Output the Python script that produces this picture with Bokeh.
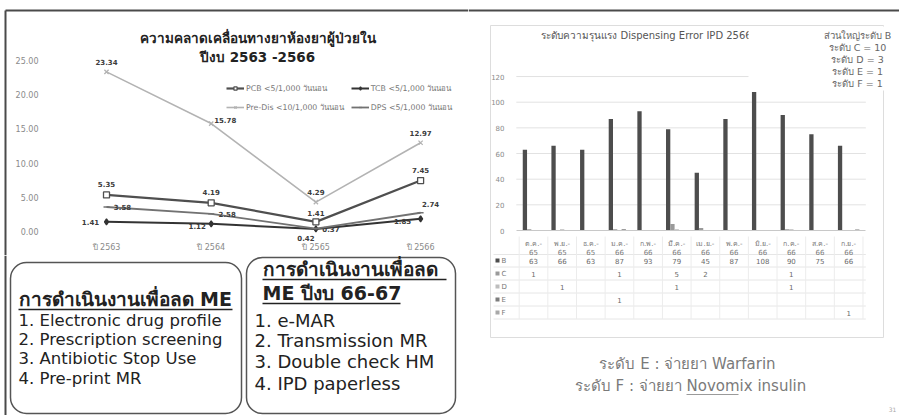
from bokeh.plotting import figure
from bokeh.layouts import row, column
from bokeh.models import Range1d, FixedTicker, NumeralTickFormatter, Legend, LegendItem
from bokeh.core.properties import value
from bokeh.embed import file_html
from bokeh.resources import INLINE

FONT = "DejaVu Sans"

# ---------------- data: medication error rates per 1,000 patient days ----------------
years = ["ปี 2563", "ปี 2564", "ปี 2565", "ปี 2566"]
pcb = [5.35, 4.19, 1.41, 7.45]
tcb = [1.41, 1.12, 0.37, 1.85]
predis = [23.34, 15.78, 4.29, 12.97]
dps = [3.58, 2.58, 0.42, 2.74]
series_names = ["PCB <5/1,000 วันนอน", "TCB <5/1,000 วันนอน",
                "Pre-Dis <10/1,000 วันนอน", "DPS <5/1,000 วันนอน"]
line_yticks = [0, 5, 10, 15, 20, 25]

# ---------------- data: dispensing error severity, IPD fiscal 2566 ----------------
months = ["ต.ค.-65", "พ.ย.-65", "ธ.ค.-65", "ม.ค.-66", "ก.พ.-66", "มี.ค.-66",
          "เม.ย.-66", "พ.ค.-66", "มิ.ย.-66", "ก.ค.-66", "ส.ค.-66", "ก.ย.-66"]
level_b = [63, 66, 63, 87, 93, 79, 45, 87, 108, 90, 75, 66]
level_c = [1, 0, 0, 1, 0, 5, 2, 0, 0, 1, 0, 0]
level_d = [0, 1, 0, 0, 0, 1, 0, 0, 0, 1, 0, 0]
level_e = [0, 0, 0, 1, 0, 0, 0, 0, 0, 0, 0, 0]
level_f = [0, 0, 0, 0, 0, 0, 0, 0, 0, 0, 0, 1]
level_names = ["B", "C", "D", "E", "F"]
bar_yticks = [0, 20, 40, 60, 80, 100, 120]


def style_axis(ax, size, color="#8a8a8a"):
    ax.axis_line_color = None
    ax.major_tick_line_color = None
    ax.minor_tick_line_color = None
    ax.major_label_text_font = FONT
    ax.major_label_text_font_size = size
    ax.major_label_text_color = color


# ======================= left: line chart =======================
LW, LH = 468, 255
LX0, LDX = 106.0, 104.7     # screen x of first year, pixels per year
LY0, LDY = 231.0, 6.84      # screen y of zero, pixels per unit


def lx(px):
    return (px - LX0) / LDX


def ly(py):
    return (LY0 - py) / LDY


lp = figure(width=LW, height=LH, output_backend="svg", toolbar_location=None,
            x_range=Range1d(lx(0), lx(LW)), y_range=Range1d(ly(LH), ly(0)),
            min_border=0)
lp.outline_line_color = None
lp.grid.visible = False

lp.yaxis.fixed_location = lx(46)
lp.yaxis.ticker = FixedTicker(ticks=line_yticks)
lp.yaxis.formatter = NumeralTickFormatter(format="0.00")
lp.yaxis.major_label_standoff = 2
style_axis(lp.yaxis[0], "8px")

xs = list(range(len(years)))
lp.xaxis.fixed_location = 0
lp.xaxis.ticker = FixedTicker(ticks=xs)
lp.xaxis.major_label_overrides = {i: y for i, y in enumerate(years)}
lp.xaxis.major_label_standoff = 5
style_axis(lp.xaxis[0], "8px")

# frame lines of the slide panel
lp.segment(x0=[lx(5), lx(5)], y0=[ly(10), ly(10)], x1=[lx(LW), lx(5)], y1=[ly(10), ly(LH)],
           line_color="#4a4a4a", line_width=2)

series = [pcb, tcb, predis, dps]
colors = ["#4f4f4f", "#333333", "#b3b3b3", "#727272"]
widths = [2.2, 2.0, 1.6, 1.8]
markers = ["square", "diamond", "x", "dash"]
mfill = ["white", "#333333", "#b3b3b3", "#727272"]
label_dx = [[0, 0, 0, 0], [-16, -14, 15, -18], [0, 14, 0, 0], [16, 16, -10, 10]]
label_dy = [[-11, -11, -9, -11], [0, 2, 0, 2], [-10, -4, -10, -10], [0, 0, 9, -9]]

items = {}
for k, vals in enumerate(series):
    r1 = lp.line(xs, vals, line_color=colors[k], line_width=widths[k])
    r2 = lp.scatter(xs, vals, marker=markers[k], size=6, line_color=colors[k],
                    fill_color=mfill[k], line_width=1.3)
    lp.text(xs, vals, text=[f"{v:.2f}" for v in vals], x_offset=label_dx[k], y_offset=label_dy[k],
            text_font=value(FONT), text_font_size="7px", text_font_style="bold",
            text_color="#3c3c3c", text_align="center", text_baseline="middle")
    items[k] = LegendItem(label=series_names[k], renderers=[r1, r2])

# two columns, filled column by column: PCB / Pre-Dis, then TCB / DPS
legend = Legend(items=[items[0], items[2], items[1], items[3]], ncols=2, location=(226, 142),
                label_text_font=FONT, label_text_font_size="7.8px", label_text_color="#777777",
                glyph_width=18, glyph_height=8, label_height=12, label_standoff=2,
                spacing=7, padding=2, margin=0, border_line_color=None,
                background_fill_alpha=0)
lp.add_layout(legend)

lp.text(x=[lx(257), lx(257)], y=[ly(37), ly(56)],
        text=["ความคลาดเคลื่อนทางยาห้องยาผู้ป่วยใน", "ปีงบ 2563 -2566"],
        text_font=value(FONT), text_font_size="13.5px", text_font_style="bold",
        text_color="#222222", text_align="center", text_baseline="middle")

# ======================= left bottom: action boxes =======================
BW, BH = 468, 160
bp = figure(width=BW, height=BH, output_backend="svg", toolbar_location=None,
            x_range=Range1d(0, BW), y_range=Range1d(BH, 0), min_border=0,
            x_axis_type=None, y_axis_type=None)
bp.outline_line_color = None
bp.grid.visible = False
bp.segment(x0=[5], y0=[0], x1=[5], y1=[BH], line_color="#4a4a4a", line_width=2)
bp.quad(left=[10, 246], right=[241, 455], top=[7, 2], bottom=[158, 158],
        fill_color="white", line_color="#555555", line_width=1.5, border_radius=16)

box1_title = "การดำเนินงานเพื่อลด ME"
box1_items = ["1.  Electronic drug profile", "2.  Prescription screening",
              "3.  Antibiotic Stop Use", "4.  Pre-print MR"]
box2_title = ["การดำเนินงานเพื่อลด", "ME ปีงบ 66-67"]
box2_items = ["1.  e-MAR", "2.  Transmission MR", "3.  Double check HM", "4.  IPD paperless"]

bp.text(x=[18], y=[43], text=[box1_title], text_font=value(FONT), text_font_size="19px",
        text_font_style="bold", text_color="#222222", text_baseline="middle")
bp.text(x=[18] * 4, y=[65, 84, 103, 123], text=box1_items, text_font=value(FONT),
        text_font_size="16.5px", text_color="#222222", text_baseline="middle")
bp.text(x=[262, 262], y=[13, 37], text=box2_title, text_font=value(FONT), text_font_size="19px",
        text_font_style="bold", text_color="#222222", text_baseline="middle")
bp.text(x=[254] * 4, y=[65, 85, 106, 128], text=box2_items, text_font=value(FONT),
        text_font_size="18px", text_color="#222222", text_baseline="middle")
bp.segment(x0=[18, 262, 262], y0=[54, 24, 48], x1=[232, 446, 400], y1=[54, 24, 48],
           line_color="#222222", line_width=1.4)

# ======================= right: severity bar chart with data table =======================
RW, RH = 431, 415
RX = 468
BC0, BDC = 533.0, 28.65     # screen x of first month, pixels per month
BY0, BDY = 230.0, 1.283     # screen y of zero, pixels per case


def bx(px):
    return (px - BC0) / BDC


def by(py):
    return (BY0 - py) / BDY


rp = figure(width=RW, height=RH, output_backend="svg", toolbar_location=None,
            x_range=Range1d(bx(RX), bx(RX + RW)), y_range=Range1d(by(RH), by(0)),
            min_border=0)
rp.outline_line_color = None
rp.grid.visible = False

# slide top line and chart area frame
rp.segment(x0=[bx(RX)], y0=[by(10)], x1=[bx(RX + RW)], y1=[by(10)], line_color="#4a4a4a", line_width=2)
rp.quad(left=[bx(490)], right=[bx(883)], top=[by(25)], bottom=[by(337)],
        fill_color=None, line_color="#dddddd", line_width=1)

mx = list(range(len(months)))
rp.segment(x0=[-0.6] * (len(bar_yticks) - 1), y0=bar_yticks[1:], x1=[11.6] * (len(bar_yticks) - 1),
           y1=bar_yticks[1:], line_color="#e2e2e2", line_width=1)

levels = [level_b, level_c, level_d, level_e, level_f]
bar_colors = ["#4d4d4d", "#9a9a9a", "#bdbdbd", "#7d7d7d", "#a8a8a8"]
bw = 0.15
for k, vals in enumerate(levels):
    rp.vbar(x=[i + (k - 2) * bw for i in mx], top=vals, width=bw, fill_color=bar_colors[k],
            line_color=None)

rp.yaxis.fixed_location = bx(512)
rp.yaxis.ticker = FixedTicker(ticks=bar_yticks)
rp.yaxis.major_label_standoff = 2
style_axis(rp.yaxis[0], "7px")

rp.xaxis.fixed_location = 0
rp.xaxis.bounds = (-0.6, 11.6)
rp.xaxis.ticker = FixedTicker(ticks=mx)
rp.xaxis.major_label_overrides = {i: m.replace("-", "-\n") for i, m in enumerate(months)}
rp.xaxis.major_label_standoff = 3
style_axis(rp.xaxis[0], "7px", "#7a7a7a")
rp.xaxis.axis_line_color = "#c8c8c8"

# data table under the chart
row_y = [260, 273, 286, 299, 312]
table_lines_y = [254, 266.5, 279.5, 292.5, 305.5, 318.5]
rp.segment(x0=[bx(493)] * len(table_lines_y), y0=[by(v) for v in table_lines_y],
           x1=[11.6] * len(table_lines_y), y1=[by(v) for v in table_lines_y],
           line_color="#e6e6e6", line_width=1)
rp.segment(x0=[i - 0.5 for i in mx] + [11.5], y0=[by(236)] * 13,
           x1=[i - 0.5 for i in mx] + [11.5], y1=[by(318.5)] * 13, line_color="#ececec", line_width=1)
for k, vals in enumerate(levels):
    yk = by(row_y[k])
    rp.scatter([bx(497)], [yk], marker="square", size=4, fill_color=bar_colors[k], line_color=None)
    rp.text([bx(501)], [yk], text=[level_names[k]], text_font=value(FONT), text_font_size="7px",
            text_color="#777777", text_baseline="middle")
    shown = [(i, v) for i, v in enumerate(vals) if v]
    rp.text([i for i, _ in shown], [yk] * len(shown), text=[str(v) for _, v in shown],
            text_font=value(FONT), text_font_size="7px", text_color="#6a6a6a",
            text_align="center", text_baseline="middle")

rp.text([bx(646)], [by(35)], text=["ระดับความรุนแรง Dispensing Error IPD 2566"],
        text_font=value(FONT), text_font_size="10px", text_color="#555555",
        text_align="center", text_baseline="middle")
rp.quad(left=[bx(748)], right=[bx(899)], top=[by(26)], bottom=[by(90)],
        fill_color="white", line_color=None)
rp.text([bx(857)] * 5, [by(v) for v in [35, 47, 59, 71, 83]],
        text=["ส่วนใหญ่ระดับ B", "ระดับ C = 10", "ระดับ D = 3", "ระดับ E = 1", "ระดับ F = 1"],
        text_font=value(FONT), text_font_size="9.5px", text_color="#666666",
        text_align="center", text_baseline="middle")

rp.text([bx(687), bx(690)], [by(363), by(385)],
        text=["ระดับ E : จ่ายยา Warfarin", "ระดับ F : จ่ายยา Novomix insulin"],
        text_font=value(FONT), text_font_size="15px", text_color="#7a7a7a",
        text_align="center", text_baseline="middle")
rp.segment(x0=[bx(686)], y0=[by(394)], x1=[bx(738)], y1=[by(394)], line_color="#9a9a9a", line_width=1)
rp.text([bx(892)], [by(409)], text=["31"], text_font=value(FONT), text_font_size="6px",
        text_color="#aaaaaa", text_align="center", text_baseline="middle")

layout = row(column(lp, bp), rp)
open("out.html", "w").write(file_html(layout, INLINE))
